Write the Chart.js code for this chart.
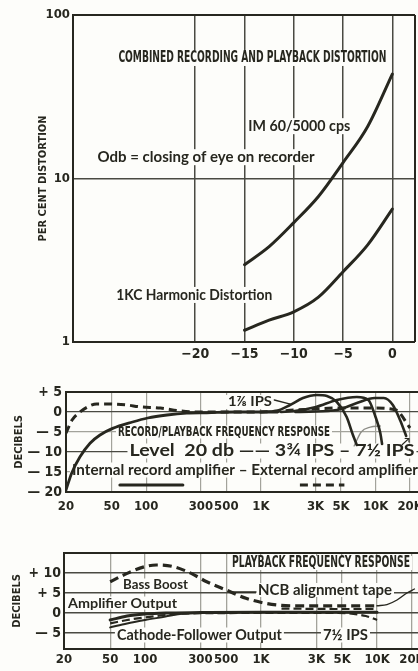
<!DOCTYPE html>
<html><head><meta charset="utf-8">
<script src="https://cdn.jsdelivr.net/npm/chart.js@4/dist/chart.umd.min.js"></script>
<style>
html,body{margin:0;padding:0;background:#fdfdfa;overflow:hidden;width:418px;height:671px}
canvas{display:block}
</style></head><body>
<canvas id="c1" width="418" height="365"></canvas>
<canvas id="c2" width="418" height="155"></canvas>
<canvas id="c3" width="418" height="151"></canvas>
<script>
// ---------- DATA ----------
// Panel 1: combined recording and playback distortion
const recordLevels = [-15, -12.5, -10, -7.5, -5, -2.5, 0];
const imDistortion = [2.97, 3.83, 5.37, 7.76, 12.5, 20.8, 43.5];
const harmonicDistortion = [1.18, 1.36, 1.53, 1.88, 2.69, 3.93, 6.5];
const levelTicks = [-20, -15, -10, -5, 0];
const levelTickLabels = ['\u221220', '\u221215', '\u221210', '\u22125', '0'];
const percentTicks = [1, 10, 100];
const percentTickLabels = ['1', '10', '100'];

// Shared frequency axis
const freqTicks = [20, 50, 100, 300, 500, 1000, 3000, 5000, 10000, 20000];
const freqTickLabels = ['20', '50', '100', '300', '500', '1K', '3K', '5K', '10K', '20K'];

// Panel 2: record/playback frequency response
const internalLowFreq = [20, 22.4, 26.5, 32.4, 39.6, 51, 76, 103, 152, 226, 338, 600, 1000, 1400];
const internalLowDb   = [-19.5, -15.3, -11.2, -7.8, -5.75, -4.1, -2.5, -1.5, -0.75, -0.3, -0.2, 0, 0, 0];
const ips178Freq = [1000, 1380, 1795, 2330, 3085, 3770, 4600, 5600, 6350, 6870];
const ips178Db   = [0, 0.3, 1.75, 3.5, 4.25, 4, 2.5, -1.25, -5.75, -8.25];
const ips334Freq = [1500, 1910, 3030, 4600, 6870, 8660, 10000, 11000, 11400];
const ips334Db   = [0, 0.2, 1.25, 3, 3.75, 3, -1.25, -5.25, -8];
const ips712Freq = [2000, 2640, 4600, 6870, 9840, 11800, 14150, 16350, 18500];
const ips712Db   = [0, 0.1, 0.5, 2.25, 3.5, 3.5, 1.75, -2, -6];
const externalFreq = [20, 22.6, 26.5, 31, 37, 48, 68, 88, 133, 196, 292, 1000, 2000, 5000, 10000, 15000, 20000];
const externalDb   = [-5.3, -2, 0, 1.3, 2, 2, 1.75, 1.3, 1, 0.3, 0, 0, 0.5, 1, 1, 0.5, -4];
const faintFreq = [6500, 7500, 9000, 11000];
const faintDb   = [-8.5, -5, -3.8, -3.5];
const legendSolidFreq = [59, 209];
const legendDashedFreq = [2190, 5350];
const legendDb = [-18.25, -18.25];
const ipsLeaderFreq = [1310, 1790];
const ipsLeaderDb = [3, 2];
const recordDbTicks = [5, 0, -5, -10, -15, -20];
const recordDbTickLabels = ['+ 5', '0', '\u2014 5', '\u2014 10', '\u2014 15', '\u2014 20'];

// Panel 3: playback frequency response
const bassBoostFreq = [50, 70, 100, 125, 175, 250, 340, 500, 740, 1100, 1500, 2000, 5000, 10000];
const bassBoostDb   = [7.8, 9.9, 11.6, 12, 11.6, 9.9, 7.8, 5.75, 3.7, 2.4, 1.9, 1.8, 1.8, 1.8];
const ncbRiseFreq = [10000, 12170, 14860, 18110, 21000];
const ncbRiseDb   = [1.8, 2.1, 3.25, 5, 6];
const ncbLowerFreq = [1500, 5000, 10000];
const ncbLowerDb   = [1.1, 1.0, 1.0];
const ampOutFreq = [50, 70, 100, 150, 300, 1000, 5000, 10000];
const ampOutDb   = [-1.75, -0.75, -0.25, 0, 0.1, 0.2, 0.2, 0.2];
const cathodeDashFreq = [50, 70, 100, 150, 250, 1000, 4600, 8000, 10000];
const cathodeDashDb   = [-2.6, -1.75, -1.1, -0.5, -0.1, 0, 0, -0.75, -1.75];
const cathodeSolidFreq = [50, 70, 100, 150, 200, 300, 600];
const cathodeSolidDb   = [-3.6, -2.6, -1.75, -0.9, -0.25, 0, 0.1];
const ncbLeaderFreq = [538, 905];
const ncbLeaderDb = [5.25, 5.25];
const playbackDbTicks = [10, 5, 0, -5];
const playbackDbTickLabels = ['+ 10', '+ 5', '0', '\u2014 5'];

// ---------- STYLE ----------
const ink = '#27271f';
const paper = '#fdfdfa';
const gridDark = '#4a4a42';
const gridLight = '#a3a39b';
const condensed = "'DejaVu Sans Condensed','Liberation Sans Narrow','Roboto Condensed','DejaVu Sans',sans-serif";
const rounded = "Lato,'Open Sans','Noto Sans',sans-serif";

function pts(xs, ys) { return xs.map((x, i) => ({x: x, y: ys[i]})); }

function line(xs, ys, opts) {
  return Object.assign({
    data: pts(xs, ys), borderColor: ink, borderWidth: 2.6, pointRadius: 0,
    fill: false, cubicInterpolationMode: 'monotone', borderCapStyle: 'round'
  }, opts || {});
}

function fit(size) {
  return function (s) {
    if (s.isHorizontal()) s.height = size; else s.width = size;
    s.paddingLeft = 0; s.paddingRight = 0; s.paddingTop = 0; s.paddingBottom = 0;
  };
}

function setTicks(values) {
  return function (s) { s.ticks = values.map(v => ({value: v})); };
}

function drawLabel(ctx, t, px, py) {
  ctx.save();
  ctx.font = t.font;
  const w = ctx.measureText(t.text).width;
  const sx = t.width / w;
  if (t.bg !== false) {
    ctx.fillStyle = paper;
    const h = t.h || 14;
    ctx.fillRect(px - t.width / 2 - 2, py - h / 2, t.width + 4, h);
  }
  ctx.translate(px, py);
  ctx.scale(sx, 1);
  ctx.fillStyle = t.color || ink;
  ctx.textAlign = 'center';
  ctx.textBaseline = 'middle';
  ctx.fillText(t.text, 0, 0);
  ctx.restore();
}

function panelPlugin(labels, sides) {
  return {
    id: 'panel',
    beforeDatasetsDraw(chart) {
      const ctx = chart.ctx, xs = chart.scales.x, ys = chart.scales.y;
      labels.forEach(t => drawLabel(ctx, t, xs.getPixelForValue(t.x), ys.getPixelForValue(t.y)));
    },
    afterDatasetsDraw(chart) {
      const ctx = chart.ctx, a = chart.chartArea;
      ctx.save();
      ctx.strokeStyle = ink;
      ctx.lineWidth = 2;
      ctx.beginPath();
      ctx.moveTo(a.right + (sides.right ? 0 : 10), a.top);
      ctx.lineTo(a.left, a.top);
      ctx.lineTo(a.left, a.bottom);
      ctx.lineTo(a.right + (sides.right ? 0 : 10), a.bottom);
      if (sides.right) { ctx.moveTo(a.right, a.top); ctx.lineTo(a.right, a.bottom); }
      ctx.stroke();
      ctx.restore();
    }
  };
}

const common = {
  responsive: false, animation: false, devicePixelRatio: 1,
  plugins: {legend: {display: false}, tooltip: {enabled: false}},
  events: []
};

// ---------- PANEL 1 ----------
new Chart(document.getElementById('c1'), {
  type: 'line',
  data: {datasets: [
    line(recordLevels, imDistortion, {borderWidth: 3}),
    line(recordLevels, harmonicDistortion, {borderWidth: 3})
  ]},
  options: Object.assign({}, common, {
    layout: {padding: {left: 0, top: 15, right: 3, bottom: 0}},
    scales: {
      x: {
        type: 'linear', min: -32.4, max: 2.3,
        afterBuildTicks: setTicks(levelTicks), afterFit: fit(23),
        ticks: {callback: (v, i) => levelTickLabels[i], color: ink, padding: 4,
          autoSkip: false, maxRotation: 0, font: {family: condensed, size: 14, weight: 'bold'}},
        grid: {color: gridDark, lineWidth: 1.5, drawTicks: false},
        border: {display: false}
      },
      y: {
        type: 'logarithmic', min: 1, max: 100,
        afterBuildTicks: setTicks(percentTicks), afterFit: fit(73),
        ticks: {callback: (v, i) => percentTickLabels[i], color: ink, padding: 3,
          autoSkip: false, font: {family: condensed, size: 13, weight: 'bold'}},
        grid: {color: c => (c.tick && c.tick.value === 10) ? gridDark : 'rgba(0,0,0,0)', lineWidth: 1.5, drawTicks: false},
        border: {display: false},
        title: {display: true, text: 'PER CENT DISTORTION', color: ink,
          font: {family: condensed, size: 11, weight: 'bold'}, padding: {top: 37, bottom: 0}}
      }
    }
  }),
  plugins: [panelPlugin([
    {text: 'COMBINED RECORDING AND PLAYBACK DISTORTION', x: -14.2, y: 54.6, width: 268, font: 'bold 16px ' + condensed, h: 16},
    {text: 'IM 60/5000 cps', x: -9.44, y: 20.9, width: 102, font: 'bold 15px ' + rounded, h: 16},
    {text: 'Odb = closing of eye on recorder', x: -18.9, y: 13.5, width: 217, font: 'bold 15px ' + rounded, h: 16},
    {text: '1KC Harmonic Distortion', x: -20.1, y: 1.94, width: 156, font: 'bold 16px ' + rounded, h: 16}
  ], {right: true})]
});

// ---------- PANEL 2 ----------
new Chart(document.getElementById('c2'), {
  type: 'line',
  data: {datasets: [
    line(internalLowFreq, internalLowDb, {borderWidth: 2.8}),
    line(ips178Freq, ips178Db, {borderWidth: 2.6}),
    line(ips334Freq, ips334Db, {borderWidth: 2.6}),
    line(ips712Freq, ips712Db, {borderWidth: 2.6}),
    line(externalFreq, externalDb, {borderWidth: 3, borderDash: [8, 5], borderCapStyle: 'butt'}),
    line(faintFreq, faintDb, {borderWidth: 1.3, borderColor: '#8d8d86'}),
    line(legendSolidFreq, legendDb, {borderWidth: 3, cubicInterpolationMode: 'default', tension: 0}),
    line(legendDashedFreq, legendDb, {borderWidth: 3, borderDash: [8, 5], borderCapStyle: 'butt', tension: 0}),
    line(ipsLeaderFreq, ipsLeaderDb, {borderWidth: 1.4, tension: 0})
  ]},
  options: Object.assign({}, common, {
    layout: {padding: {left: 0, top: 27, right: 0, bottom: 0}},
    scales: {
      x: {
        type: 'logarithmic', min: 20, max: 23450,
        afterBuildTicks: setTicks(freqTicks), afterFit: fit(28),
        ticks: {callback: (v, i) => freqTickLabels[i], color: ink, padding: 7,
          autoSkip: false, maxRotation: 0, font: {family: condensed, size: 13, weight: 'bold'}},
        grid: {color: gridLight, lineWidth: 1.2, drawTicks: false},
        border: {display: false}
      },
      y: {
        type: 'linear', min: -20, max: 5,
        afterBuildTicks: setTicks(recordDbTicks), afterFit: fit(66),
        ticks: {callback: (v, i) => recordDbTickLabels[i], color: ink, padding: 4,
          autoSkip: false, font: {family: condensed, size: 14, weight: 'bold'}},
        grid: {color: c => (c.tick && (c.tick.value === 0 || c.tick.value === -10)) ? gridDark : gridLight, lineWidth: 1.3, drawTicks: false},
        border: {display: false},
        title: {display: true, text: 'DECIBELS', color: ink,
          font: {family: condensed, size: 11, weight: 'bold'}, padding: {top: 13, bottom: 0}}
      }
    }
  }),
  plugins: [panelPlugin([
    {text: 'RECORD/PLAYBACK FREQUENCY RESPONSE', x: 477, y: -5, width: 212, font: 'bold 14px ' + condensed, h: 13},
    {text: '1\u215E IPS', x: 803, y: 2.5, width: 44, font: 'bold 13px ' + rounded, h: 14},
    {text: 'Level  20 db \u2014\u2014 3\u00BE IPS \u2013 7\u00BD IPS', x: 1250, y: -9.75, width: 285, font: 'bold 17px ' + rounded, h: 15},
    {text: 'Internal record amplifier \u2013 External record amplifier', x: 727, y: -14.5, width: 346, font: 'bold 15px ' + rounded, h: 15},
    {text: '\u2197', x: 18200, y: -7.25, width: 9, font: 'bold 11px ' + rounded, bg: false}
  ], {right: false})]
});

// ---------- PANEL 3 ----------
new Chart(document.getElementById('c3'), {
  type: 'line',
  data: {datasets: [
    line(bassBoostFreq, bassBoostDb, {borderWidth: 3.2, borderDash: [9, 5], borderCapStyle: 'butt'}),
    line(ncbRiseFreq, ncbRiseDb, {borderWidth: 1.4}),
    line(ncbLowerFreq, ncbLowerDb, {borderWidth: 2.2, borderDash: [8, 4], borderCapStyle: 'butt'}),
    line(ampOutFreq, ampOutDb, {borderWidth: 3}),
    line(cathodeDashFreq, cathodeDashDb, {borderWidth: 2.2, borderDash: [8, 4], borderCapStyle: 'butt'}),
    line(cathodeSolidFreq, cathodeSolidDb, {borderWidth: 2}),
    line(ncbLeaderFreq, ncbLeaderDb, {borderWidth: 1.3, tension: 0})
  ]},
  options: Object.assign({}, common, {
    layout: {padding: {left: 0, top: 33, right: 0, bottom: 0}},
    scales: {
      x: {
        type: 'logarithmic', min: 20, max: 22540,
        afterBuildTicks: setTicks(freqTicks), afterFit: fit(22),
        ticks: {callback: (v, i) => freqTickLabels[i], color: ink, padding: 3,
          autoSkip: false, maxRotation: 0, font: {family: condensed, size: 13, weight: 'bold'}},
        grid: {color: gridLight, lineWidth: 1.3, drawTicks: false},
        border: {display: false}
      },
      y: {
        type: 'linear', min: -9, max: 15,
        afterBuildTicks: setTicks(playbackDbTicks), afterFit: fit(64),
        ticks: {callback: (v, i) => playbackDbTickLabels[i], color: ink, padding: 3,
          autoSkip: false, font: {family: condensed, size: 14, weight: 'bold'}},
        grid: {color: gridDark, lineWidth: 1.4, drawTicks: false},
        border: {display: false},
        title: {display: true, text: 'DECIBELS', color: ink,
          font: {family: condensed, size: 11, weight: 'bold'}, padding: {top: 11, bottom: 0}}
      }
    }
  }),
  plugins: [panelPlugin([
    {text: 'PLAYBACK FREQUENCY RESPONSE', x: 3286, y: 12.5, width: 178, font: 'bold 15px ' + condensed, h: 14},
    {text: 'Bass Boost', x: 123, y: 7, width: 65, font: 'bold 13px ' + rounded, h: 13},
    {text: 'NCB alignment tape', x: 3557, y: 5.75, width: 134, font: 'bold 15px ' + rounded, h: 14},
    {text: 'Amplifier Output', x: 63.9, y: 2.5, width: 109, font: 'bold 14px ' + rounded, h: 13},
    {text: 'Cathode-Follower Output', x: 294, y: -5.5, width: 165, font: 'bold 15px ' + rounded, h: 15},
    {text: '7\u00BD IPS', x: 5343, y: -5.5, width: 45, font: 'bold 15px ' + rounded, h: 15}
  ], {right: false})]
});
</script>
</body></html>
